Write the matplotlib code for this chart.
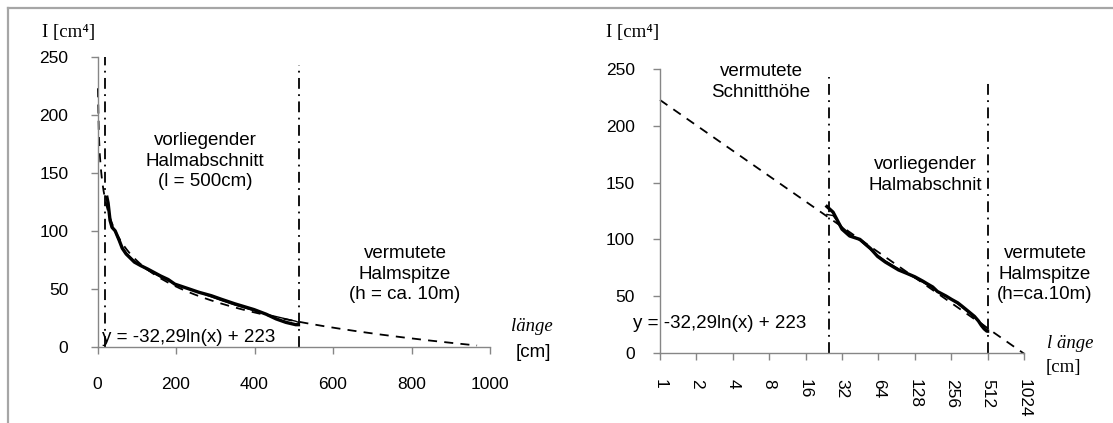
import matplotlib.pyplot as plt
import numpy as np
from matplotlib.lines import Line2D

laenge = [24, 27, 32, 37, 45, 55, 63, 73, 94, 110, 128, 150, 161, 180, 197,
          232, 258, 290, 315, 350, 399, 430, 455, 480, 505, 512]
traeg = [129, 124, 109, 103, 100, 92, 85, 80, 73, 70, 67, 63, 61, 58, 54,
         50, 47, 44, 41, 37, 32, 28, 24, 21, 19, 19]
traeg2 = [122, 121, 111, 105, 99, 91, 86, 81, 74, 70, 66, 62, 60, 57, 54,
          50, 47, 43, 40, 36, 31, 28, 26, 24, 22, 21]

# Trendlinie y = -32,29 ln(x) + 223
trend_a = -32.29
trend_b = 223
trend_x_links = [1, 967]
trend_x_rechts = [1, 1024]

# Grenzen (Schnitthöhe / Halmspitze)
grenzen_links = [20, 513]
grenzen_rechts = [24.9, 512]
grenzen_top_links = [250, 243]
grenzen_top_rechts = [243, 240]

x_ticks_links = [0, 200, 400, 600, 800, 1000]
x_ticks_rechts = [1, 2, 4, 8, 16, 32, 64, 128, 256, 512, 1024]
y_ticks = [0, 50, 100, 150, 200, 250]

sans = ['Liberation Sans', 'DejaVu Sans']
serif = ['Liberation Serif', 'DejaVu Serif']
plt.rcParams['font.family'] = sans
plt.rcParams['font.size'] = 12.5

grau = '#868686'
W, H = 1113, 423
fs_txt = 13.5

fig = plt.figure(figsize=(W / 100, H / 100), dpi=100)
ax1 = fig.add_axes([97.5 / W, 1 - 346.7 / H, 392.5 / W, 289.7 / H])
ax2 = fig.add_axes([660 / W, 1 - 352.7 / H, 364 / W, 283.3 / H])


def ftext(x, y, s, **kw):
    # Text in Pixelkoordinaten (von oben links)
    kw.setdefault('fontsize', fs_txt)
    kw.setdefault('linespacing', 1.25)
    return fig.text(x / W, 1 - y / H, s, **kw)


# Rahmen
fig.add_artist(Line2D([7.5 / W, 1], [1 - 8.5 / H] * 2, transform=fig.transFigure,
                      color='#a6a6a6', lw=1.6))
fig.add_artist(Line2D([7.5 / W] * 2, [0, 1 - 8.5 / H], transform=fig.transFigure,
                      color='#a6a6a6', lw=1.6))


def trend(x):
    return trend_a * np.log(np.asarray(x, dtype=float)) + trend_b


def achsen(ax):
    for s in ['top', 'right']:
        ax.spines[s].set_visible(False)
    for s in ['left', 'bottom']:
        ax.spines[s].set_color(grau)
        ax.spines[s].set_linewidth(1.0)
    ax.set_ylim(0, 250)
    ax.set_yticks(y_ticks)
    ax.tick_params(colors=grau, length=5, width=1.0, labelcolor='black')


# --- links: lineare x-Achse ---
achsen(ax1)
xs = np.linspace(trend_x_links[0], trend_x_links[1], 400)
ax1.plot(xs, trend(xs), color='black', lw=1.3, ls=(0, (5, 4)), clip_on=False)
ax1.plot(laenge, traeg2, color='black', lw=1.0)
ax1.plot(laenge, traeg, color='black', lw=2.4)
for gx, gt in zip(grenzen_links, grenzen_top_links):
    ax1.plot([gx, gx], [0, gt], color='black', lw=1.3, ls=(0, (6, 3, 1, 3)), clip_on=False)
ax1.set_xlim(0, 1000)
ax1.set_xticks(x_ticks_links)
ax1.tick_params(axis='x', pad=17)
ax1.tick_params(axis='y', pad=16)

ftext(205, 161, 'vorliegender\nHalmabschnitt\n(l = 500cm)', ha='center', va='center')
ftext(405, 274, 'vermutete\nHalmspitze\n(h = ca. 10m)', ha='center', va='center')
ftext(102, 337, 'y = -32,29ln(x) + 223', ha='left', va='center')
ftext(42, 33, 'I [cm⁴]', family=serif, ha='left', va='center')
ftext(532, 326, 'länge', family=serif, style='italic', ha='center', va='center')
ftext(533, 352, '[cm]', ha='center', va='center')

# --- rechts: logarithmische x-Achse (Basis 2) ---
achsen(ax2)
ax2.set_xscale('log', base=2)
xs2 = np.geomspace(trend_x_rechts[0], trend_x_rechts[1], 400)
ax2.plot(xs2, trend(xs2), color='black', lw=1.3, ls=(0, (5, 4)), clip_on=False)
ax2.plot(laenge, traeg2, color='black', lw=1.0)
ax2.plot(laenge, traeg, color='black', lw=2.4)
for gx, gt in zip(grenzen_rechts, grenzen_top_rechts):
    ax2.plot([gx, gx], [0, gt], color='black', lw=1.3, ls=(0, (6, 3, 1, 3)), clip_on=False)
ax2.set_xlim(1, 1024)
ax2.set_xticks(x_ticks_rechts)
ax2.set_xticklabels([str(t) for t in x_ticks_rechts], rotation=-90)
ax2.minorticks_off()
ax2.tick_params(axis='x', pad=14)
ax2.tick_params(axis='y', pad=13)

ftext(761, 82, 'vermutete\nSchnitthöhe', ha='center', va='center')
ftext(925, 175, 'vorliegender\nHalmabschnit', ha='center', va='center')
ftext(1045, 274, 'vermutete\nHalmspitze\n(h=ca.10m)', ha='center', va='center')
ftext(633, 323, 'y = -32,29ln(x) + 223', ha='left', va='center')
ftext(606, 33, 'I [cm⁴]', family=serif, ha='left', va='center')
ftext(1070, 344, 'l änge', family=serif, style='italic', ha='center', va='center')
ftext(1063, 367, '[cm]', family=serif, ha='center', va='center')

fig.savefig('out.png', dpi=100)
